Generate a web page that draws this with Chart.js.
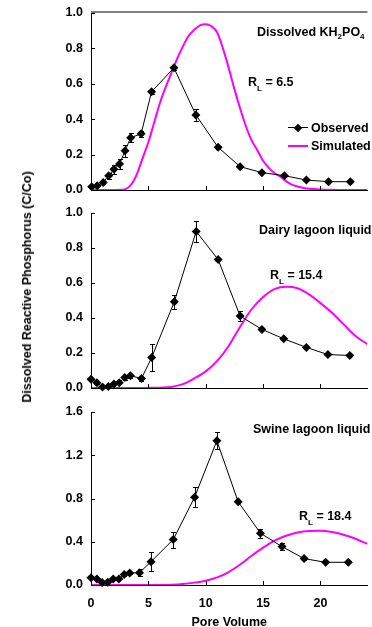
<!DOCTYPE html>
<html>
<head>
<meta charset="utf-8">
<script src="https://cdn.jsdelivr.net/npm/chart.js@4.4.1/dist/chart.umd.min.js"></script>
<style>
  html, body { margin: 0; padding: 0; background: #fff; }
  body { width: 372px; height: 627px; position: relative; overflow: hidden;
         font-family: Arial, "Liberation Sans", sans-serif; font-weight: bold; color: #000; }
  .panel { position: absolute; left: 0; width: 372px; }
  .lbl { position: absolute; font-size: 12.5px; line-height: 14px; white-space: nowrap; }
  .lbl sub { font-size: 8px; line-height: 0; vertical-align: -3px; }
  .lbl sub.low { vertical-align: -5px; }
  #ytitle { position: absolute; left: 27px; top: 287px; font-size: 12.5px; line-height: 14px; white-space: nowrap;
            transform: translate(-50%, -50%) rotate(-90deg); }
  .legline { position: absolute; left: 288px; width: 20px; }
  .diamond { position: absolute; width: 6px; height: 6px; background: #000; transform: rotate(45deg); }
</style>
</head>
<body>
<div class="panel" style="top:0; height:200px;"><canvas id="kh" width="372" height="200"></canvas></div>
<div class="panel" style="top:200px; height:200px;"><canvas id="dairy" width="372" height="200"></canvas></div>
<div class="panel" style="top:400px; height:227px;"><canvas id="swine" width="372" height="227"></canvas></div>

<div id="ytitle">Dissolved Reactive Phosphorus (C/Co)</div>

<div class="lbl" style="left:257px; top:25px;">Dissolved KH<sub>2</sub>PO<sub>4</sub></div>
<div class="lbl" style="left:248px; top:75px;">R<sub class="low">L</sub> = 6.5</div>
<div class="legline" style="top:127px; height:1px; background:#000;"></div>
<div class="diamond" style="left:295px; top:125px;"></div>
<div class="lbl" style="left:311px; top:121px;">Observed</div>
<div class="legline" style="top:145px; height:2px; background:#ff00ff;"></div>
<div class="lbl" style="left:311px; top:139px;">Simulated</div>

<div class="lbl" style="left:259px; top:223px;">Dairy lagoon liquid</div>
<div class="lbl" style="left:270px; top:268px;">R<sub class="low">L</sub> = 15.4</div>

<div class="lbl" style="left:253px; top:422px;">Swine lagoon liquid</div>
<div class="lbl" style="left:299px; top:509px;">R<sub class="low">L</sub> = 18.4</div>

<script>
const xTicks = [0, 5, 10, 15, 20];
const xMax = 24.1;
const yTicksFrac = [0, 0.2, 0.4, 0.6, 0.8, 1.0];
const yTicksSwine = [0, 0.4, 0.8, 1.2, 1.6];

// Dissolved KH2PO4
const khObsX = [0.06, 0.54, 1.06, 1.54, 2.0, 2.49, 2.97, 3.46, 4.37, 5.28, 7.23, 9.14, 11.08, 13.0, 14.9, 16.86, 18.77, 20.7, 22.6];
const khObsY = [0.019, 0.024, 0.043, 0.081, 0.117, 0.147, 0.222, 0.295, 0.318, 0.555, 0.69, 0.424, 0.241, 0.132, 0.098, 0.081, 0.056, 0.047, 0.047];
const khErr = [0, 0, 0.008, 0.017, 0.024, 0.03, 0.033, 0.025, 0.017, 0.01, 0.01, 0.034, 0.01, 0.008, 0, 0, 0, 0, 0];
const khSimX = [0, 1, 2, 2.5, 3, 3.5, 4, 4.5, 5, 5.5, 6, 6.5, 7, 7.5, 8, 8.5, 9, 9.5, 10, 10.5,
                11, 11.5, 12, 12.5, 13, 13.5, 14, 14.5, 15, 15.5, 16, 16.5, 17, 17.5, 18, 19, 20, 21, 22, 24.1];
const khSimY = [0, 0, 0, 0.001, 0.005, 0.03, 0.09, 0.18, 0.27, 0.38, 0.49, 0.58, 0.66, 0.74, 0.81, 0.87, 0.905, 0.93, 0.936, 0.925,
                0.89, 0.8, 0.69, 0.57, 0.46, 0.36, 0.28, 0.225, 0.165, 0.125, 0.095, 0.075, 0.05, 0.03, 0.02, 0.007, 0.003, 0.001, 0, 0];

// Dairy lagoon liquid
const dairyObsX = [0, 0.51, 1.0, 1.51, 2.0, 2.46, 2.94, 3.43, 4.4, 5.29, 7.26, 9.17, 11.08, 13.0, 14.9, 16.8, 18.77, 20.65, 22.56];
const dairyObsY = [0.05, 0.03, 0.006, 0.008, 0.023, 0.03, 0.06, 0.07, 0.055, 0.174, 0.493, 0.895, 0.734, 0.411, 0.335, 0.281, 0.232, 0.191, 0.186];
const dairyErr = [0, 0, 0, 0, 0, 0, 0.012, 0.01, 0.015, 0.076, 0.04, 0.062, 0, 0.029, 0, 0, 0, 0, 0];
const dairySimX = [0, 4, 5, 6, 7, 8, 9, 10, 11, 12, 13, 14, 15, 16, 17, 18, 19, 20, 21, 22, 23, 24.1];
const dairySimY = [0, 0, 0.001, 0.002, 0.006, 0.022, 0.055, 0.095, 0.155, 0.24, 0.35, 0.45, 0.52, 0.565, 0.578, 0.57, 0.535, 0.485, 0.43, 0.365, 0.3, 0.25];

// Swine lagoon liquid
const swineObsX = [0, 0.51, 0.97, 1.46, 1.94, 2.43, 2.89, 3.37, 4.23, 5.23, 7.17, 9.03, 10.97, 12.83, 14.77, 16.65, 18.57, 20.45, 22.43];
const swineObsY = [0.068, 0.056, 0.022, 0.025, 0.056, 0.056, 0.096, 0.11, 0.114, 0.216, 0.42, 0.812, 1.334, 0.769, 0.479, 0.355, 0.244, 0.21, 0.21];
const swineErr = [0, 0, 0, 0, 0, 0, 0.015, 0.01, 0.034, 0.085, 0.074, 0.093, 0.078, 0.015, 0.04, 0.03, 0.01, 0, 0];
const swineSimX = [0, 6, 7, 8, 9, 10, 11, 12, 13, 14, 15, 16, 17, 18, 19, 20, 21, 22, 23, 24.1];
const swineSimY = [0, 0, 0.003, 0.01, 0.022, 0.04, 0.07, 0.12, 0.19, 0.27, 0.345, 0.41, 0.455, 0.485, 0.5, 0.502, 0.49, 0.465, 0.43, 0.38];

Chart.defaults.font.family = 'Arial, "Liberation Sans", sans-serif';
Chart.defaults.font.size = 12.5;
Chart.defaults.font.weight = 'bold';
Chart.defaults.color = '#000';

const pts = (xs, ys) => xs.map((x, i) => ({ x: x, y: ys[i] }));

// vertical error bars with caps, read from dataset.errors
const errorBars = {
  id: 'errorBars',
  afterDatasetsDraw(chart) {
    const ds = chart.data.datasets[0];
    const meta = chart.getDatasetMeta(0);
    const y = chart.scales.y;
    const ctx = chart.ctx;
    ctx.save();
    ctx.strokeStyle = '#000';
    ctx.lineWidth = 1;
    ctx.beginPath();
    meta.data.forEach((pt, i) => {
      const e = ds.errors[i];
      if (!e) return;
      const v = ds.data[i].y;
      const px = Math.round(pt.x) + 0.5;
      const top = Math.round(y.getPixelForValue(v + e)) + 0.5;
      const bot = Math.round(y.getPixelForValue(v - e)) + 0.5;
      ctx.moveTo(px, top); ctx.lineTo(px, bot);
      ctx.moveTo(px - 2.5, top); ctx.lineTo(px + 2.5, top);
      ctx.moveTo(px - 2.5, bot); ctx.lineTo(px + 2.5, bot);
    });
    ctx.stroke();
    ctx.restore();
  }
};

// tick marks pointing into the plot
const innerTicks = {
  id: 'innerTicks',
  afterDraw(chart) {
    const { ctx, chartArea, scales } = chart;
    ctx.save();
    ctx.strokeStyle = '#000';
    ctx.lineWidth = 1;
    ctx.beginPath();
    scales.x.ticks.forEach(t => {
      const px = Math.round(scales.x.getPixelForValue(t.value)) + 0.5;
      ctx.moveTo(px, chartArea.bottom);
      ctx.lineTo(px, chartArea.bottom - 4);
    });
    scales.y.ticks.forEach(t => {
      const py = Math.round(scales.y.getPixelForValue(t.value)) + 0.5;
      ctx.moveTo(chartArea.left, py);
      ctx.lineTo(chartArea.left + 4, py);
    });
    ctx.stroke();
    ctx.restore();
  }
};

// grey frame line along the top of the first panel
const topFrame = {
  id: 'topFrame',
  beforeDatasetsDraw(chart) {
    const { ctx, chartArea } = chart;
    ctx.save();
    ctx.strokeStyle = '#555';
    ctx.lineWidth = 1.5;
    ctx.beginPath();
    ctx.moveTo(chartArea.left, chartArea.top - 1);
    ctx.lineTo(chartArea.right, chartArea.top - 1);
    ctx.stroke();
    ctx.restore();
  }
};

function makePanel(id, obsX, obsY, errs, simX, simY, yTicks, padTop, xHeight, showX, extra) {
  return new Chart(document.getElementById(id), {
    type: 'line',
    data: {
      datasets: [
        {
          data: pts(obsX, obsY),
          errors: errs,
          borderColor: '#000',
          borderWidth: 1,
          pointStyle: 'rectRot',
          pointRadius: 4.5,
          pointBackgroundColor: '#000',
          pointBorderColor: '#000',
          pointBorderWidth: 0,
          tension: 0,
          clip: false,
        },
        {
          data: pts(simX, simY),
          borderColor: '#ff00ff',
          borderWidth: 2,
          pointRadius: 0,
          cubicInterpolationMode: 'monotone',
        },
      ],
    },
    options: {
      responsive: false,
      animation: false,
      devicePixelRatio: 1,
      events: [],
      layout: { padding: { top: padTop, left: 0, right: 0, bottom: 0 } },
      plugins: { legend: { display: false }, tooltip: { enabled: false } },
      scales: {
        x: {
          type: 'linear',
          min: 0,
          max: xMax,
          grid: { display: false, drawTicks: false },
          border: { color: '#000', width: 1 },
          afterBuildTicks: s => { s.ticks = xTicks.map(v => ({ value: v })); },
          afterFit: s => { s.height = xHeight; s.paddingLeft = 0; s.paddingRight = 0; },
          ticks: { display: showX, padding: 11 },
          title: {
            display: showX,
            text: 'Pore Volume',
            font: { size: 12.5, weight: 'bold', lineHeight: 0.75 },
            padding: { top: 0, bottom: 0 },
          },
        },
        y: {
          type: 'linear',
          min: 0,
          max: yTicks[yTicks.length - 1],
          grid: { display: false, drawTicks: false },
          border: { color: '#000', width: 1 },
          afterBuildTicks: s => { s.ticks = yTicks.map(v => ({ value: v })); },
          afterFit: s => { s.width = 91; s.paddingTop = 0; s.paddingBottom = 0; },
          ticks: { padding: 8, callback: v => v.toFixed(1) },
        },
      },
    },
    plugins: [errorBars, innerTicks].concat(extra || []),
  });
}

makePanel('kh', khObsX, khObsY, khErr, khSimX, khSimY, yTicksFrac, 13, 10, false, [topFrame]);
makePanel('dairy', dairyObsX, dairyObsY, dairyErr, dairySimX, dairySimY, yTicksFrac, 13, 12, false);
makePanel('swine', swineObsX, swineObsY, swineErr, swineSimX, swineSimY, yTicksSwine, 12, 42, true);
</script>
</body>
</html>
